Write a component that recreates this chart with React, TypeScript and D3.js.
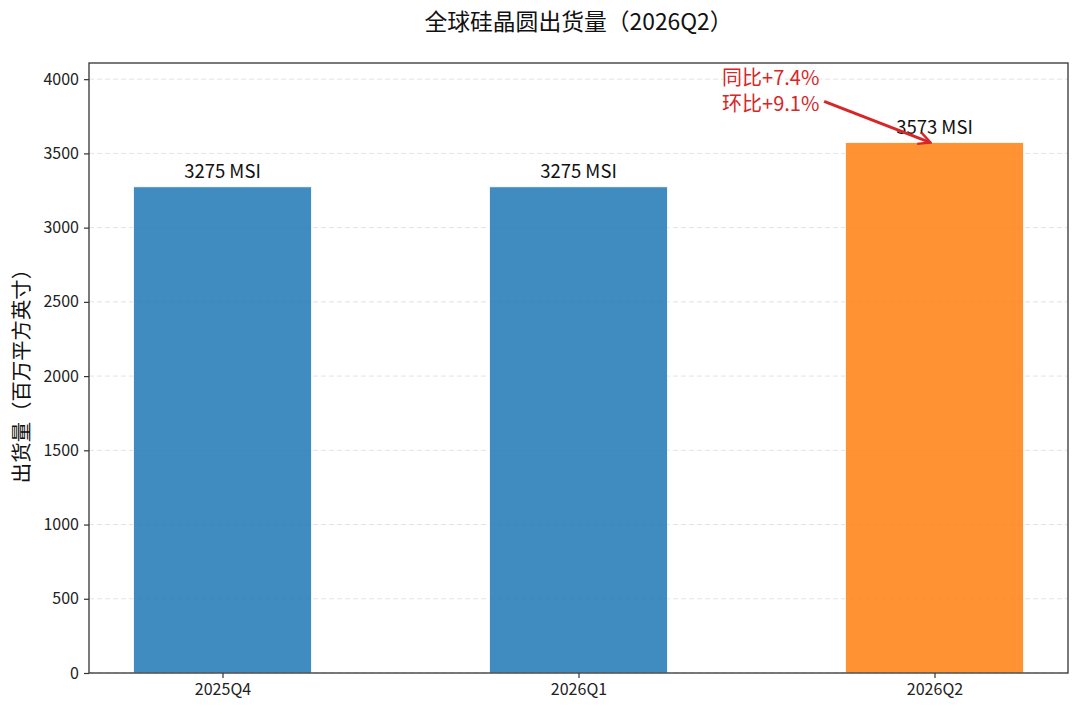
import React, { useEffect, useRef } from 'react';
import * as d3 from 'd3';

const categories = ['2025Q4', '2026Q1', '2026Q2'];
const shipments = [3275, 3275, 3573];
const valueLabels = ['3275 MSI', '3275 MSI', '3573 MSI'];
const yTicks = [0, 500, 1000, 1500, 2000, 2500, 3000, 3500, 4000];
const noteLines = ['同比+7.4%', '环比+9.1%'];
// annotation text position in data units (x index, value)
const noteAt = [1.54, 3962];
const arrowFrom = [1.69, 3850];

const W = 1080;
const H = 715;
const FONT = '"Noto Sans CJK SC", "Noto Sans", sans-serif';

const App: React.FC = () => {
  const svgRef = useRef<SVGSVGElement>(null);

  useEffect(() => {
    document.body.style.margin = '0';
    if (!svgRef.current) return;
    const svg = d3.select(svgRef.current);
    svg.selectAll('*').remove();

    const margin = { top: 63, right: 12, bottom: 42, left: 89 };
    const innerW = W - margin.left - margin.right;
    const innerH = H - margin.top - margin.bottom;

    const x = d3.scaleLinear().domain([-0.375, categories.length - 1 + 0.375]).range([0, innerW]);
    const y = d3.scaleLinear().domain([0, d3.max(shipments)! * 1.15]).range([innerH, 0]);
    const barW = x(0.5) - x(0);

    const defs = svg.append('defs');
    defs.append('marker')
      .attr('id', 'arrowhead')
      .attr('viewBox', '0 0 10 10')
      .attr('refX', 9)
      .attr('refY', 5)
      .attr('markerWidth', 5)
      .attr('markerHeight', 5)
      .attr('markerUnits', 'strokeWidth')
      .attr('orient', 'auto')
      .append('path')
      .attr('d', 'M1,1 L9,5 L1,9')
      .attr('fill', 'none')
      .attr('stroke', '#d62728')
      .attr('stroke-width', 1.6);

    const g = svg.append('g').attr('transform', `translate(${margin.left},${margin.top})`);

    // grid
    g.append('g')
      .selectAll('line')
      .data(yTicks)
      .join('line')
      .attr('x1', 0)
      .attr('x2', innerW)
      .attr('y1', d => y(d))
      .attr('y2', d => y(d))
      .attr('stroke', '#e3e3e3')
      .attr('stroke-width', 1)
      .attr('stroke-dasharray', '5,3');

    // bars
    g.append('g')
      .selectAll('rect')
      .data(shipments)
      .join('rect')
      .attr('x', (_, i) => x(i) - barW / 2)
      .attr('y', d => y(d))
      .attr('width', barW)
      .attr('height', d => innerH - y(d))
      .attr('fill', (_, i) => (i === categories.length - 1 ? '#ff7f0e' : '#1f77b4'))
      .attr('fill-opacity', 0.85)
      .attr('stroke', 'white')
      .attr('stroke-width', 0.8);

    // value labels
    g.append('g')
      .selectAll('text')
      .data(shipments)
      .join('text')
      .attr('x', (_, i) => x(i))
      .attr('y', d => y(d) - 9)
      .attr('text-anchor', 'middle')
      .attr('font-family', FONT)
      .attr('font-size', 18.5)
      .attr('fill', '#111')
      .text((_, i) => valueLabels[i]);

    // axes
    const xAxis = g.append('g')
      .attr('transform', `translate(0,${innerH})`)
      .call(d3.axisBottom(x).tickValues(categories.map((_, i) => i)).tickFormat((_, i) => categories[i]).tickSizeOuter(0).tickSize(5).tickPadding(6));
    const yAxis = g.append('g')
      .call(d3.axisLeft(y).tickValues(yTicks).tickFormat(d3.format('d')).tickSizeOuter(0).tickSize(5).tickPadding(5));
    [xAxis, yAxis].forEach(a => {
      a.select('.domain').remove();
      a.selectAll('line').attr('stroke', '#333').attr('stroke-width', 1.2);
      a.selectAll('text').attr('font-family', FONT).attr('font-size', 16).attr('fill', '#222');
    });

    // frame
    g.append('rect')
      .attr('width', innerW)
      .attr('height', innerH)
      .attr('fill', 'none')
      .attr('stroke', '#333')
      .attr('stroke-width', 1.3);

    // annotation
    const last = categories.length - 1;
    g.append('line')
      .attr('x1', x(arrowFrom[0]))
      .attr('y1', y(arrowFrom[1]))
      .attr('x2', x(last) - 4)
      .attr('y2', y(shipments[last]))
      .attr('stroke', '#d62728')
      .attr('stroke-width', 3)
      .attr('marker-end', 'url(#arrowhead)');

    g.append('text')
      .attr('x', x(noteAt[0]))
      .attr('y', y(noteAt[1]))
      .attr('text-anchor', 'middle')
      .attr('font-family', FONT)
      .attr('font-size', 20)
      .attr('fill', '#d62728')
      .selectAll('tspan')
      .data(noteLines)
      .join('tspan')
      .attr('x', x(noteAt[0]))
      .attr('dy', (_, i) => (i === 0 ? 0 : 26))
      .text(d => d);

    // title
    svg.append('text')
      .attr('x', margin.left + innerW / 2)
      .attr('y', 30)
      .attr('text-anchor', 'middle')
      .attr('font-family', FONT)
      .attr('font-size', 22.8)
      .attr('fill', '#111')
      .text('全球硅晶圆出货量（2026Q2）');

    // y label
    svg.append('text')
      .attr('transform', `translate(29,${margin.top + innerH / 2 + 3}) rotate(-90)`)
      .attr('text-anchor', 'middle')
      .attr('font-family', FONT)
      .attr('font-size', 20.4)
      .attr('fill', '#111')
      .text('出货量（百万平方英寸）');
  }, []);

  return <svg ref={svgRef} width={W} height={H} style={{ display: 'block', background: 'white' }} />;
};

export default App;
